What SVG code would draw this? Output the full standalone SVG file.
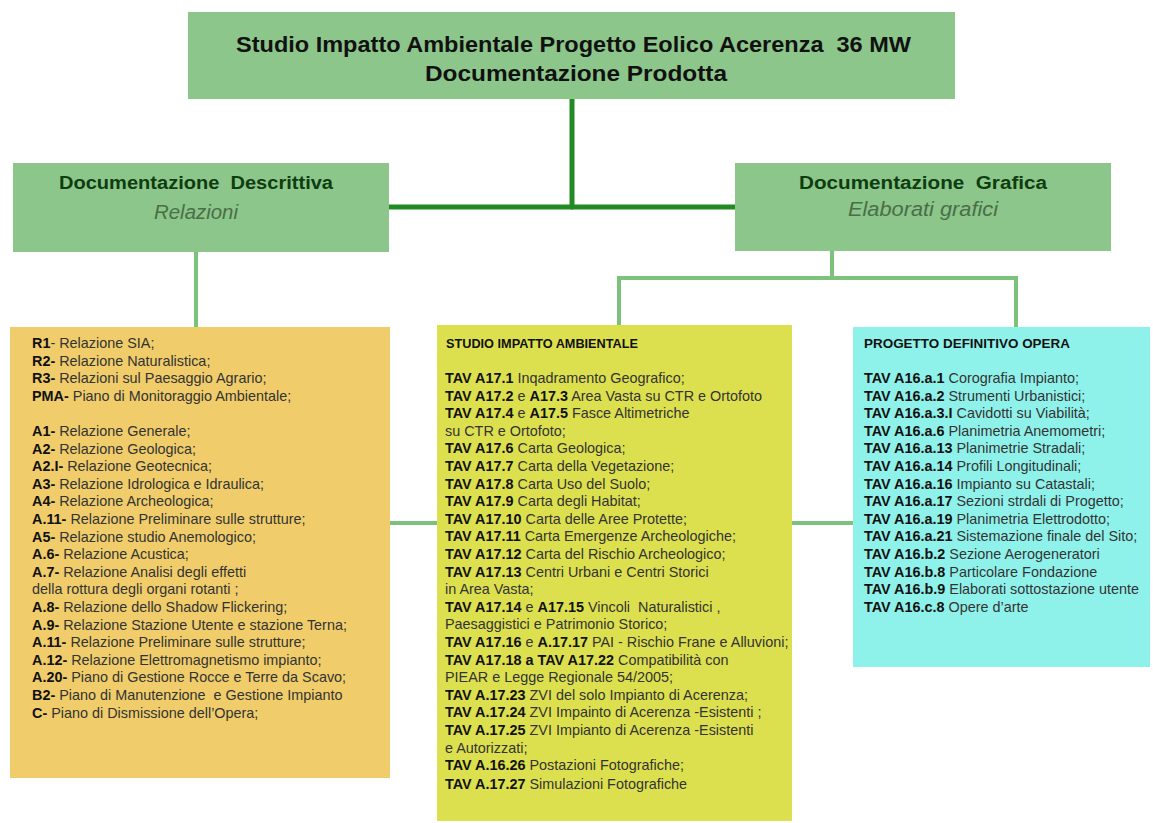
<svg xmlns="http://www.w3.org/2000/svg" width="1153" height="823" viewBox="0 0 1153 823">
<style>
text{font-family:"Liberation Sans",Arial,sans-serif;white-space:pre}
.title{font-size:22px;font-weight:bold;fill:#111}
.hd{font-size:18px;font-weight:bold;fill:#0e3d10}
.it{font-size:20px;font-style:italic;fill:#4a6e48}
.li{font-size:14.4px;fill:#333}
.b{font-weight:bold;fill:#111}
.cap{font-size:13px;font-weight:bold;fill:#111}
.gbox{fill:#8cc68a}
.thick{stroke:#228a22;stroke-width:5;fill:none;stroke-linecap:round}
.thin{stroke:#7cc27c;stroke-width:4;fill:none}
</style>
<rect width="1153" height="823" fill="#fff"/>
<g id="connectors">
<path class="thick" d="M572,99 V207"/>
<path class="thick" d="M389,207 H738"/>
<path class="thin" d="M196,252 V328"/>
<path class="thin" d="M619,326 V278 H1016 V328"/>
<path class="thin" d="M832,251 V278"/>
<path class="thin" d="M390,523 H437"/>
<path class="thin" d="M792,523 H853"/>
</g>
<g id="root">
<rect class="gbox" x="188" y="12" width="767" height="87"/>
<text class="title" x="236" y="52" textLength="675" lengthAdjust="spacingAndGlyphs">Studio Impatto Ambientale Progetto Eolico Acerenza  36 MW</text>
<text class="title" x="425" y="81" textLength="302" lengthAdjust="spacingAndGlyphs">Documentazione Prodotta</text>
</g>
<g id="descrittiva">
<rect class="gbox" x="13" y="163" width="376" height="89"/>
<text class="hd" x="59" y="189" textLength="274" lengthAdjust="spacingAndGlyphs">Documentazione  Descrittiva</text>
<text class="it" x="154" y="219" textLength="84" lengthAdjust="spacingAndGlyphs">Relazioni</text>
</g>
<g id="grafica">
<rect class="gbox" x="735" y="163" width="376" height="88"/>
<text class="hd" x="799" y="189" textLength="248" lengthAdjust="spacingAndGlyphs">Documentazione  Grafica</text>
<text class="it" x="848" y="216" textLength="150" lengthAdjust="spacingAndGlyphs">Elaborati grafici</text>
</g>
<g id="relazioni">
<rect x="10" y="327" width="380" height="451" fill="#f0cd6a"/>
<text class="li" x="32" y="348">
<tspan x="32" dy="0"><tspan class="b">R1</tspan>- Relazione SIA;</tspan>
<tspan x="32" dy="17.6"><tspan class="b">R2-</tspan> Relazione Naturalistica;</tspan>
<tspan x="32" dy="17.6"><tspan class="b">R3-</tspan> Relazioni sul Paesaggio Agrario;</tspan>
<tspan x="32" dy="17.6"><tspan class="b">PMA-</tspan> Piano di Monitoraggio Ambientale;</tspan>
<tspan x="32" dy="35.2"><tspan class="b">A1-</tspan> Relazione Generale;</tspan>
<tspan x="32" dy="17.6"><tspan class="b">A2-</tspan> Relazione Geologica;</tspan>
<tspan x="32" dy="17.6"><tspan class="b">A2.I-</tspan> Relazione Geotecnica;</tspan>
<tspan x="32" dy="17.6"><tspan class="b">A3-</tspan> Relazione Idrologica e Idraulica;</tspan>
<tspan x="32" dy="17.6"><tspan class="b">A4-</tspan> Relazione Archeologica;</tspan>
<tspan x="32" dy="17.6"><tspan class="b">A.11-</tspan> Relazione Preliminare sulle strutture;</tspan>
<tspan x="32" dy="17.6"><tspan class="b">A5-</tspan> Relazione studio Anemologico;</tspan>
<tspan x="32" dy="17.6"><tspan class="b">A.6-</tspan> Relazione Acustica;</tspan>
<tspan x="32" dy="17.6"><tspan class="b">A.7-</tspan> Relazione Analisi degli effetti</tspan>
<tspan x="32" dy="17.6">della rottura degli organi rotanti ;</tspan>
<tspan x="32" dy="17.6"><tspan class="b">A.8-</tspan> Relazione dello Shadow Flickering;</tspan>
<tspan x="32" dy="17.6"><tspan class="b">A.9-</tspan> Relazione Stazione Utente e stazione Terna;</tspan>
<tspan x="32" dy="17.6"><tspan class="b">A.11-</tspan> Relazione Preliminare sulle strutture;</tspan>
<tspan x="32" dy="17.6"><tspan class="b">A.12-</tspan> Relazione Elettromagnetismo impianto;</tspan>
<tspan x="32" dy="17.6"><tspan class="b">A.20-</tspan> Piano di Gestione Rocce e Terre da Scavo;</tspan>
<tspan x="32" dy="17.6"><tspan class="b">B2-</tspan> Piano di Manutenzione  e Gestione Impianto</tspan>
<tspan x="32" dy="17.6"><tspan class="b">C-</tspan> Piano di Dismissione dell’Opera;</tspan>
</text>
</g>
<g id="sia">
<rect x="437" y="325" width="355" height="496" fill="#dde04e"/>
<text class="cap" x="446" y="348" textLength="192" lengthAdjust="spacingAndGlyphs">STUDIO IMPATTO AMBIENTALE</text>
<text class="li" x="445" y="383">
<tspan x="445" dy="0"><tspan class="b">TAV A17.1</tspan> Inqadramento Geografico;</tspan>
<tspan x="445" dy="17.6"><tspan class="b">TAV A17.2</tspan> e <tspan class="b">A17.3</tspan> Area Vasta su CTR e Ortofoto</tspan>
<tspan x="445" dy="17.6"><tspan class="b">TAV A17.4</tspan> e <tspan class="b">A17.5</tspan> Fasce Altimetriche</tspan>
<tspan x="445" dy="17.6">su CTR e Ortofoto;</tspan>
<tspan x="445" dy="17.6"><tspan class="b">TAV A17.6</tspan> Carta Geologica;</tspan>
<tspan x="445" dy="17.6"><tspan class="b">TAV A17.7</tspan> Carta della Vegetazione;</tspan>
<tspan x="445" dy="17.6"><tspan class="b">TAV A17.8</tspan> Carta Uso del Suolo;</tspan>
<tspan x="445" dy="17.6"><tspan class="b">TAV A17.9</tspan> Carta degli Habitat;</tspan>
<tspan x="445" dy="17.6"><tspan class="b">TAV A17.10</tspan> Carta delle Aree Protette;</tspan>
<tspan x="445" dy="17.6"><tspan class="b">TAV A17.11</tspan> Carta Emergenze Archeologiche;</tspan>
<tspan x="445" dy="17.6"><tspan class="b">TAV A17.12</tspan> Carta del Rischio Archeologico;</tspan>
<tspan x="445" dy="17.6"><tspan class="b">TAV A17.13</tspan> Centri Urbani e Centri Storici</tspan>
<tspan x="445" dy="17.6">in Area Vasta;</tspan>
<tspan x="445" dy="17.6"><tspan class="b">TAV A17.14</tspan> e <tspan class="b">A17.15</tspan> Vincoli  Naturalistici ,</tspan>
<tspan x="445" dy="17.6">Paesaggistici e Patrimonio Storico;</tspan>
<tspan x="445" dy="17.6"><tspan class="b">TAV A17.16</tspan> e <tspan class="b">A.17.17</tspan> PAI - Rischio Frane e Alluvioni;</tspan>
<tspan x="445" dy="17.6"><tspan class="b">TAV A17.18 a TAV A17.22</tspan> Compatibilità con</tspan>
<tspan x="445" dy="17.6">PIEAR e Legge Regionale 54/2005;</tspan>
<tspan x="445" dy="17.6"><tspan class="b">TAV A.17.23</tspan> ZVI del solo Impianto di Acerenza;</tspan>
<tspan x="445" dy="17.6"><tspan class="b">TAV A.17.24</tspan> ZVI Impainto di Acerenza -Esistenti ;</tspan>
<tspan x="445" dy="17.6"><tspan class="b">TAV A.17.25</tspan> ZVI Impianto di Acerenza -Esistenti</tspan>
<tspan x="445" dy="17.6">e Autorizzati;</tspan>
<tspan x="445" dy="17.6"><tspan class="b">TAV A.16.26</tspan> Postazioni Fotografiche;</tspan>
<tspan x="445" dy="18.6"><tspan class="b">TAV A.17.27</tspan> Simulazioni Fotografiche</tspan>
</text>
</g>
<g id="progetto">
<rect x="853" y="327" width="297" height="340" fill="#8ff2ea"/>
<text class="cap" x="864" y="348" textLength="206" lengthAdjust="spacingAndGlyphs">PROGETTO DEFINITIVO OPERA</text>
<text class="li" x="864" y="383">
<tspan x="864" dy="0"><tspan class="b">TAV A16.a.1</tspan> Corografia Impianto;</tspan>
<tspan x="864" dy="17.6"><tspan class="b">TAV A16.a.2</tspan> Strumenti Urbanistici;</tspan>
<tspan x="864" dy="17.6"><tspan class="b">TAV A16.a.3.I</tspan> Cavidotti su Viabilità;</tspan>
<tspan x="864" dy="17.6"><tspan class="b">TAV A16.a.6</tspan> Planimetria Anemometri;</tspan>
<tspan x="864" dy="17.6"><tspan class="b">TAV A16.a.13</tspan> Planimetrie Stradali;</tspan>
<tspan x="864" dy="17.6"><tspan class="b">TAV A16.a.14</tspan> Profili Longitudinali;</tspan>
<tspan x="864" dy="17.6"><tspan class="b">TAV A16.a.16</tspan> Impianto su Catastali;</tspan>
<tspan x="864" dy="17.6"><tspan class="b">TAV A16.a.17</tspan> Sezioni strdali di Progetto;</tspan>
<tspan x="864" dy="17.6"><tspan class="b">TAV A16.a.19</tspan> Planimetria Elettrodotto;</tspan>
<tspan x="864" dy="17.6"><tspan class="b">TAV A16.a.21</tspan> Sistemazione finale del Sito;</tspan>
<tspan x="864" dy="17.6"><tspan class="b">TAV A16.b.2</tspan> Sezione Aerogeneratori</tspan>
<tspan x="864" dy="17.6"><tspan class="b">TAV A16.b.8</tspan> Particolare Fondazione</tspan>
<tspan x="864" dy="17.6"><tspan class="b">TAV A16.b.9</tspan> Elaborati sottostazione utente</tspan>
<tspan x="864" dy="17.6"><tspan class="b">TAV A16.c.8</tspan> Opere d’arte</tspan>
</text>
</g>
</svg>
